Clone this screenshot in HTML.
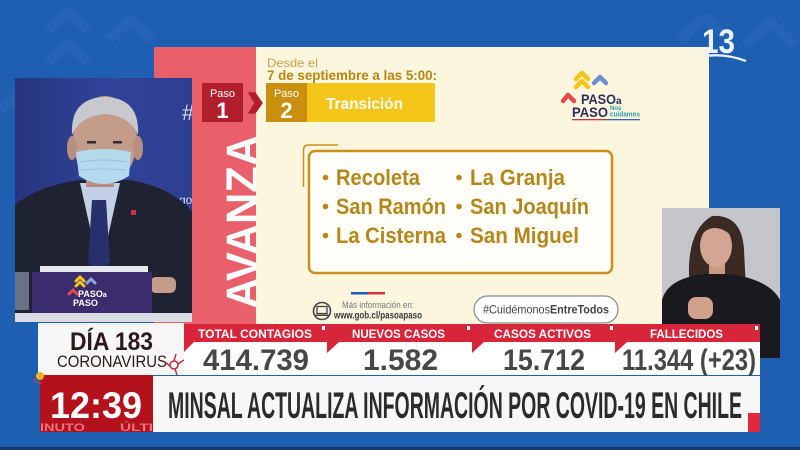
<!DOCTYPE html>
<html><head><meta charset="utf-8"><style>
html,body{margin:0;padding:0;background:#1e5fb2;}
svg{display:block;}
text{font-family:"Liberation Sans",sans-serif;}
</style></head><body>
<svg width="800" height="450" viewBox="0 0 800 450" xmlns="http://www.w3.org/2000/svg">
<!-- background -->
<rect x="0" y="0" width="800" height="450" fill="#1e5fb2"/>
<g fill="none" stroke="#ffffff" stroke-opacity="0.035" stroke-width="10" stroke-linejoin="round">
<polyline points="48,30 68,12 88,30"/><polyline points="48,62 68,44 88,62"/>
<polyline points="108,40 130,20 152,40"/><polyline points="0,110 10,100 20,110"/>
<polyline points="680,40 705,18 730,40"/><polyline points="745,45 770,22 795,45"/>
</g>
<rect x="0" y="447" width="800" height="3" fill="#163a70"/>

<!-- slide -->
<rect x="154" y="47" width="102" height="280" fill="#e9606a"/>
<text transform="translate(258,309) rotate(-90)" font-size="45" font-weight="bold" fill="#ffffff" textLength="174" lengthAdjust="spacingAndGlyphs">AVANZA</text>
<rect x="256" y="47" width="453" height="280" fill="#fcf6de"/>

<text x="267" y="67" font-size="12" fill="#c9a046" textLength="51" lengthAdjust="spacingAndGlyphs">Desde el</text>
<text x="267" y="80" font-size="13.5" font-weight="bold" fill="#b8860f" textLength="170" lengthAdjust="spacingAndGlyphs">7 de septiembre a las 5:00:</text>

<rect x="202" y="83" width="41" height="39" fill="#b21f2c"/>
<text x="222.5" y="97" font-size="11" fill="#ffffff" text-anchor="middle">Paso</text>
<text x="222.5" y="118" font-size="22" font-weight="bold" fill="#ffffff" text-anchor="middle">1</text>
<polygon points="249,93 255,93 262,103 255,113 249,113 255,103" fill="#b21f2c" stroke="#b21f2c" stroke-width="1.5" stroke-linejoin="round"/>
<rect x="266" y="83" width="41" height="39" fill="#c98f0d"/>
<rect x="307" y="83" width="128" height="39" fill="#f3c619"/>
<text x="286.5" y="97" font-size="11" fill="#ffffff" text-anchor="middle">Paso</text>
<text x="286.5" y="118" font-size="22" font-weight="bold" fill="#ffffff" text-anchor="middle">2</text>
<text x="326" y="109" font-size="15.5" font-weight="bold" fill="#ffffff" textLength="77" lengthAdjust="spacingAndGlyphs">Transición</text>

<!-- logo -->
<g fill="none" stroke-width="4.5" stroke-linecap="round" stroke-linejoin="round">
<polyline points="576,79 582,73 588,79" stroke="#f3c51a"/>
<polyline points="576,87 582,81 588,87" stroke="#f3c51a"/>
<polyline points="594,83 600,77 606,83" stroke="#6d90cf"/>
<polyline points="563,101 568,95 574,101" stroke="#e04c4c"/>
</g>
<text x="581" y="104" font-size="14" font-weight="bold" fill="#2b2b5e" textLength="35" lengthAdjust="spacingAndGlyphs">PASO</text>
<text x="616" y="104" font-size="10" font-weight="bold" fill="#2b2b5e">a</text>
<text x="572" y="117" font-size="14" font-weight="bold" fill="#2b2b5e" textLength="36" lengthAdjust="spacingAndGlyphs">PASO</text>
<text x="610" y="110" font-size="6" font-weight="bold" fill="#2aa0a8">Nos</text>
<text x="610" y="116.5" font-size="7" font-weight="bold" fill="#2aa0a8" textLength="30" lengthAdjust="spacingAndGlyphs">cuidamos</text>
<rect x="572" y="119" width="34" height="1.3" fill="#d03040"/>
<rect x="606" y="119" width="34" height="1.3" fill="#3a60b0"/>

<!-- list box -->
<path d="M303.5,187 L303.5,150 Q303.5,145 308.5,145 L338,145" fill="none" stroke="#c8901e" stroke-width="1.5"/>
<rect x="309" y="151" width="303" height="122" rx="6" fill="#fffef9" stroke="#c8901e" stroke-width="2.5"/>
<g fill="#b5861a">
<circle cx="325.5" cy="177.5" r="2.8"/><circle cx="325.5" cy="206.5" r="2.8"/><circle cx="325.5" cy="235.5" r="2.8"/>
<circle cx="459" cy="177.5" r="2.8"/><circle cx="459" cy="206.5" r="2.8"/><circle cx="459" cy="235.5" r="2.8"/>
</g>
<g font-size="22" font-weight="bold" fill="#b5861a">
<text x="336" y="185" textLength="84" lengthAdjust="spacingAndGlyphs">Recoleta</text>
<text x="336" y="214" textLength="110" lengthAdjust="spacingAndGlyphs">San Ramón</text>
<text x="336" y="243" textLength="110" lengthAdjust="spacingAndGlyphs">La Cisterna</text>
<text x="470" y="185" textLength="95" lengthAdjust="spacingAndGlyphs">La Granja</text>
<text x="470" y="214" textLength="119" lengthAdjust="spacingAndGlyphs">San Joaquín</text>
<text x="470" y="243" textLength="109" lengthAdjust="spacingAndGlyphs">San Miguel</text>
</g>

<rect x="351" y="292" width="17" height="2.5" fill="#1f5fb3"/>
<rect x="368" y="292" width="17" height="2.5" fill="#e0303c"/>
<circle cx="322" cy="311" r="8.5" fill="none" stroke="#444" stroke-width="1.6"/>
<rect x="317" y="306.5" width="10" height="7" fill="none" stroke="#444" stroke-width="1.3"/>
<rect x="315.5" y="314.5" width="13" height="1.5" fill="#444"/>
<text x="342" y="308" font-size="9" fill="#777" textLength="72" lengthAdjust="spacingAndGlyphs">Más información en:</text>
<text x="334" y="318.5" font-size="10" font-weight="bold" fill="#3a3a3a" textLength="88" lengthAdjust="spacingAndGlyphs">www.gob.cl/pasoapaso</text>

<rect x="474" y="296" width="144" height="27" rx="13.5" fill="#ffffff" stroke="#8a8a8a" stroke-width="1.2"/>
<text x="483" y="313.5" font-size="12" fill="#444" textLength="67" lengthAdjust="spacingAndGlyphs">#Cuidémonos</text>
<text x="550" y="313.5" font-size="12" font-weight="bold" fill="#444" textLength="59" lengthAdjust="spacingAndGlyphs">EntreTodos</text>

<!-- 13 logo -->
<text x="702" y="53" font-size="34" font-weight="bold" fill="#eef3fb" textLength="33" lengthAdjust="spacingAndGlyphs">13</text>
<path d="M699,57 Q722,52 746,61" fill="none" stroke="#eef3fb" stroke-width="2.2"/>

<!-- left video -->
<defs>
<linearGradient id="vbg" x1="0" y1="0" x2="1" y2="0">
<stop offset="0" stop-color="#27357c"/><stop offset="0.5" stop-color="#31429a"/><stop offset="1" stop-color="#2e3f92"/>
</linearGradient>
<clipPath id="vclip"><rect x="15" y="78" width="177" height="244"/></clipPath>
<clipPath id="tclip"><rect x="40" y="375" width="113" height="57"/></clipPath>
</defs>
<g clip-path="url(#vclip)">
<rect x="15" y="78" width="177" height="244" fill="url(#vbg)"/>
<text x="182" y="120" font-size="22" fill="#cfd6ea">#</text>
<text x="179" y="204" font-size="12" fill="#cfd6ea">go</text>
<rect x="183" y="250" width="9" height="50" fill="#8a9ab8" opacity="0.6"/>
<!-- suit -->
<path d="M10,210 Q30,188 78,180 L130,180 Q175,188 195,215 L195,322 L10,322 Z" fill="#1f2230"/>
<!-- shirt -->
<polygon points="80,183 120,183 100,272" fill="#c3cfe4"/>
<polygon points="92,200 106,200 110,262 99,274 88,262" fill="#27306a"/>
<!-- neck & face -->
<rect x="86" y="165" width="28" height="22" fill="#b88f7e"/>
<ellipse cx="105" cy="140" rx="32" ry="44" fill="#c49c8a"/>
<ellipse cx="72" cy="148" rx="5" ry="12" fill="#b9907f"/>
<ellipse cx="138" cy="148" rx="5" ry="12" fill="#b9907f"/>
<path d="M72,135 Q70,98 105,97 Q140,98 138,135 Q130,116 105,114 Q80,116 72,135 Z" fill="#c7c9cf"/>
<rect x="87" y="141" width="9" height="2.5" fill="#3a2a2a"/>
<rect x="113" y="141" width="9" height="2.5" fill="#3a2a2a"/>
<!-- mask -->
<path d="M76,152 Q104,146 131,152 L129,176 Q104,192 79,176 Z" fill="#b2d9ec"/>
<path d="M80,162 Q104,158 127,162 M81,170 Q104,168 126,170" fill="none" stroke="#95c0d8" stroke-width="1"/>
<rect x="131" y="210" width="5" height="5" fill="#d03040"/>
<!-- paper, sign, table -->
<rect x="40" y="266" width="108" height="7" fill="#e8e9ef"/>
<rect x="150" y="277" width="26" height="16" rx="6" fill="#c49c8a"/>
<rect x="15" y="272" width="14" height="38" fill="#9aa6bf" opacity="0.6"/>
<rect x="32" y="272" width="120" height="41" fill="#3b2c6d"/>
<g fill="none" stroke-width="3" stroke-linecap="round" stroke-linejoin="round">
<polyline points="76,281 80,277 84,281" stroke="#f3c51a"/>
<polyline points="76,286 80,282 84,286" stroke="#f3c51a"/>
<polyline points="87,283 91,279 95,283" stroke="#8fa6e0"/>
<polyline points="69,294 73,290 77,294" stroke="#e04c4c"/>
</g>
<text x="78" y="297" font-size="9" font-weight="bold" fill="#ffffff">PASO<tspan font-size="7">a</tspan></text>
<text x="73" y="306" font-size="9" font-weight="bold" fill="#ffffff">PASO</text>
<rect x="15" y="313" width="177" height="9" fill="#d9dce4"/>
</g>

<!-- interpreter -->
<rect x="662" y="208" width="118" height="150" fill="#c5c6cc"/>
<path d="M690,290 Q684,232 712,216 Q742,214 744,250 L746,290 Z" fill="#3b2a24"/>
<rect x="709" y="262" width="16" height="16" fill="#c99a86"/>
<ellipse cx="716" cy="246" rx="16" ry="21" fill="#d4a592"/>
<path d="M700,236 Q714,220 732,236 Q732,222 716,220 Q700,222 700,236 Z" fill="#3b2a24"/>
<path d="M662,300 Q668,278 705,274 L730,274 Q770,280 780,300 L780,358 L662,358 Z" fill="#1a1a1e"/>
<rect x="688" y="297" width="25" height="22" rx="8" fill="#d0a08c"/>

<!-- stats bar -->
<rect x="38" y="323" width="146" height="52" fill="#f6f6f6"/>
<text x="70" y="350" font-size="25" font-weight="bold" fill="#2a1a1c" textLength="83" lengthAdjust="spacingAndGlyphs">DÍA 183</text>
<text x="57" y="367" font-size="16.5" fill="#2a1a1c" textLength="110" lengthAdjust="spacingAndGlyphs">CORONAVIRUS</text>
<g stroke="#c0303a" stroke-width="1.5" fill="none">
<circle cx="174" cy="365" r="4"/>
<line x1="174" y1="361" x2="176" y2="354"/><line x1="178" y1="364" x2="184" y2="360"/>
<line x1="170" y1="366" x2="165" y2="362"/><line x1="175" y1="369" x2="177" y2="375"/>
</g>

<rect x="184" y="342" width="576" height="33" fill="#ffffff"/>
<rect x="184" y="324" width="576" height="18" fill="#d7263a"/>
<g fill="#d7263a">
<polygon points="184,342 194,342 184,352"/>
<polygon points="327,342 339,342 327,353"/>
<polygon points="472,342 484,342 472,353"/>
<polygon points="615,342 627,342 615,353"/>
</g>
<g fill="#ffffff">
<rect x="322" y="326" width="3" height="4"/><rect x="467" y="326" width="3" height="4"/>
<rect x="610" y="326" width="3" height="4"/><rect x="755" y="326" width="3" height="4"/>
</g>
<g font-size="11.5" font-weight="bold" fill="#ffffff">
<text x="198" y="338" textLength="114" lengthAdjust="spacingAndGlyphs">TOTAL CONTAGIOS</text>
<text x="352" y="338" textLength="93" lengthAdjust="spacingAndGlyphs">NUEVOS CASOS</text>
<text x="494" y="338" textLength="97" lengthAdjust="spacingAndGlyphs">CASOS ACTIVOS</text>
<text x="650" y="338" textLength="73" lengthAdjust="spacingAndGlyphs">FALLECIDOS</text>
</g>
<g font-size="30" font-weight="bold" fill="#474747">
<text x="203" y="370" textLength="106" lengthAdjust="spacingAndGlyphs">414.739</text>
<text x="363" y="370" textLength="75" lengthAdjust="spacingAndGlyphs">1.582</text>
<text x="503" y="370" textLength="82" lengthAdjust="spacingAndGlyphs">15.712</text>
<text x="622" y="370" textLength="134" lengthAdjust="spacingAndGlyphs">11.344 (+23)</text>
</g>

<rect x="153" y="376" width="607" height="56" fill="#f7f7f7"/>
<text x="168" y="418" font-size="37" font-weight="bold" fill="#2b2b2b" textLength="574" lengthAdjust="spacingAndGlyphs">MINSAL ACTUALIZA INFORMACIÓN POR COVID-19 EN CHILE</text>
<rect x="748" y="413" width="12" height="19" fill="#e0283a"/>

<rect x="40" y="375" width="113" height="57" fill="#b3111c"/>
<g clip-path="url(#tclip)">
<text x="50" y="418" font-size="37" font-weight="bold" fill="#ffffff" textLength="92" lengthAdjust="spacingAndGlyphs">12:39</text>
<text x="40" y="431" font-size="11" font-weight="bold" fill="#ee7380" textLength="45" lengthAdjust="spacingAndGlyphs">INUTO</text>
<text x="120" y="431" font-size="11" font-weight="bold" fill="#ee7380" textLength="33" lengthAdjust="spacingAndGlyphs">ÚLTI</text>
</g>
<circle cx="40" cy="376" r="4" fill="#f2b21f"/>
<path d="M34,378 Q36,384 42,383" fill="none" stroke="#e0403a" stroke-width="1"/>
</svg>
</body></html>
